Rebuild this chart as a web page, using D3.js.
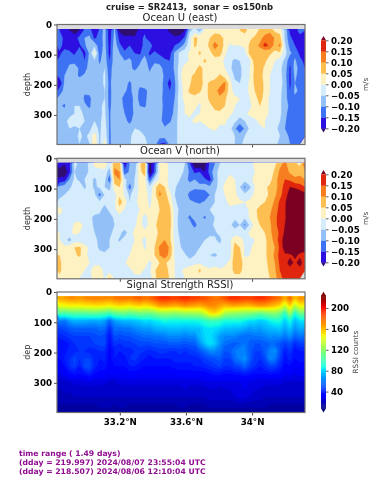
<!DOCTYPE html>
<html>
<head>
<meta charset="utf-8">
<script src="https://cdnjs.cloudflare.com/ajax/libs/d3/7.8.5/d3.min.js"></script>
<style>
html, body { margin: 0; padding: 0; background: #fff; }
svg { display: block; filter: blur(0.42px); font-family: "DejaVu Sans", sans-serif; }
</style>
</head>
<body>
<div id="chart"></div>
<script>
const width = 379
const height = 480

const depths = [20, 45, 70, 95, 120, 145, 170, 195, 220, 245, 270, 295, 320, 345, 370, 395]
const firstLat = 32.835
const latStep = 0.0303

// ocean U, cm/s, one row per depth
const oceanU = [
  [-15,-16,-20,-22,-20,-14,-12,-20,-14,-8,-18,-9,-21,-23,-22,-23,-18,-16,-17,-17,-18,-17,-21,-23,-24,-20,-6,-3,-7,1,2,3,3,3,3,2,5,7,2,2,6,7,8,4,3,-6,-16,-18,-12,-15],
  [-13,-16,-18,-18,-13,-10,-9,-16,-13,-8,-18,-8,-17,-19,-19,-19,-17,-14,-18,-19,-19,-18,-17,-19,-18,-14,-2,6,4,2,5,8,7,4,3,1,1,2,4,6,8,12,15,9,7,-6,-14,-17,-18,-18],
  [-13,-17,-17,-18,-16,-11,-7,-6,-14,-8,-17,-7,-14,-17,-15,-16,-18,-13,-12,-18,-19,-18,-16,-15,-13,-8,-2,6,3,1,7,12,9,3,-1,0,0,1,6,8,11,17,14,8,11,-4,-12,-15,-17,-18],
  [-16,-13,-14,-16,-11,-17,-9,2,-13,-7,-17,-6,-10,-14,-12,-15,-16,-11,-16,-14,-16,-18,-17,-9,-4,-2,1,2,6,2,3,8,7,1,-3,-2,-1,-2,7,9,7,5,6,3,4,-3,-9,-12,-16,-18],
  [-14,-12,-11,-12,-12,-15,-8,-6,-11,-7,-15,-7,-8,-10,-9,-12,-11,-8,-13,-11,-12,-14,-15,-9,-4,-3,1,3,2,6,3,2,2,-1,-4,-6,-5,-3,-1,8,8,6,2,0,-3,-6,-14,-9,-14,-16],
  [-13,-12,-9,-7,-11,-13,-7,-6,-9,-5,-14,-5,-7,-8,-9,-11,-9,-7,-11,-8,-8,-12,-14,-9,-3,3,2,3,7,3,2,2,2,0,-4,-7,-6,-3,0,6,7,4,1,-1,-4,-7,-16,-8,-12,-15],
  [-13,-10,-7,-8,-11,-9,-6,-6,-8,-4,-13,-5,-7,-7,-8,-8,-8,-7,-9,-7,-7,-11,-14,-10,-2,4,4,6,8,2,2,1,6,3,-1,-6,-6,-3,0,7,8,2,0,-1,-3,-8,-16,-9,-12,-15],
  [-20,-9,-6,-8,-6,-8,-7,-7,-8,-4,-12,-5,-7,-8,-11,-8,-9,-6,-8,-7,-7,-12,-17,-11,-3,3,4,9,8,3,6,9,8,11,2,-4,-5,-3,1,6,9,3,0,-2,-3,-7,-16,-10,-12,-15],
  [-12,-9,-6,-7,-5,-9,-7,-5,-7,-5,-12,-6,-8,-9,-12,-7,-11,-12,-8,-6,-7,-12,-15,-11,-3,2,6,8,6,2,7,8,12,10,2,-2,-3,-2,1,5,9,3,0,-1,-4,-7,-15,-9,-11,-14],
  [-9,-8,-6,-6,-6,-11,-12,-5,-7,-5,-12,-6,-8,-12,-14,-8,-11,-12,-7,-6,-8,-12,-14,-10,-2,1,3,3,1,3,6,7,9,6,2,1,0,-1,0,3,7,3,-1,-2,-4,-8,-13,-11,-13,-14],
  [-9,-11,-6,-5,-5,-9,-11,-6,-6,-4,-12,-5,-8,-11,-14,-8,-10,-11,-7,-5,-7,-12,-14,-9,-3,0,2,1,-1,3,4,6,9,5,2,0,-1,-2,-1,2,5,3,-1,-3,-4,-8,-11,-13,-14,-14],
  [-9,-7,-6,-5,-2,-7,-8,-6,-6,-4,-11,-5,-7,-10,-13,-9,-7,-6,-6,-5,-7,-13,-14,-8,-3,0,1,-1,0,3,2,4,3,2,1,-1,-3,-1,1,2,3,2,-1,-2,-4,-8,-13,-11,-14,-14],
  [-7,-6,-4,-3,-2,-5,-7,-5,-6,-3,-11,-5,-6,-8,-12,-7,-6,-6,-7,-5,-8,-13,-11,-7,-3,-3,-1,1,0,1,2,2,1,1,-2,-4,-7,-5,-2,-1,1,0,-3,-4,-5,-9,-14,-12,-14,-15],
  [-8,-6,-5,-6,-5,-6,-6,-3,-6,-2,-11,-6,-6,-7,-7,-5,-6,-6,-7,-6,-8,-9,-7,-6,-4,-4,-2,-2,-1,-1,0,1,-1,-1,-3,-9,-15,-9,-4,-2,-1,0,-3,-4,-6,-10,-13,-15,-14,-15],
  [-8,-7,-6,-7,-4,-6,-4,3,-6,-1,-11,-7,-6,-7,-6,-3,-2,-5,-6,-7,-8,-8,-8,-6,-4,-4,-3,-3,-2,-2,-1,-2,-2,-2,-3,-5,-7,-5,-3,-3,-2,-2,-3,-4,-5,-8,-11,-12,-14,-14],
  [-9,-8,-7,-7,-5,-7,-5,4,-6,2,-11,-7,-6,-7,-6,-2,-1,-4,-6,-7,-15,-16,-8,-6,-4,-3,-3,-3,-2,-2,-2,-2,-2,-3,-3,-5,-6,-4,-3,-3,-3,-3,-3,-4,-6,-8,-10,-11,-12,NaN]
]

// ocean V, cm/s, one row per depth
const oceanV = [
  [-18,-20,-16,-4,-6,-7,-4,1,1,3,-3,9,8,-18,-10,-9,4,9,-22,-15,1,2,-1,-3,-2,-5,-14,-24,-24,-22,-14,-10,-5,-2,-2,-1,-2,-3,-2,1,1,1,2,4,9,11,8,6,4,14],
  [-22,-24,-17,-5,-7,-8,-4,-2,-1,-2,-8,11,10,-14,-9,-7,3,8,-24,-14,0,2,-1,-3,-3,-6,-11,-16,-15,-20,-13,-7,-3,-2,-1,-2,-3,-2,-1,0,1,1,2,6,11,13,9,8,8,9],
  [-19,-18,-10,-4,-6,-5,-3,-6,-3,-3,-14,8,10,-4,-7,-5,2,3,-14,-4,1,3,-2,-4,-5,-7,-12,-10,-13,-14,-17,-8,-3,-1,2,0,-2,-3,-1,1,1,2,3,8,12,15,14,11,12,10],
  [-9,-7,-6,-3,-2,-6,-3,-6,-4,-5,-7,3,5,-2,-13,-4,1,2,-4,3,9,5,-2,-4,-8,-9,-7,-9,-8,-7,-9,-8,-2,1,2,1,-5,-11,-6,0,2,4,6,8,12,17,20,19,17,15],
  [-6,-5,-3,-3,-2,-3,-3,-4,-12,-5,-3,-2,4,-1,-6,-2,1,3,-2,3,11,7,2,-5,-6,-7,-12,-13,-14,-15,-10,-5,-2,0,3,1,-2,-4,-2,1,2,3,6,9,13,18,22,25,24,22],
  [-4,-3,-2,-1,-3,-4,-3,-3,-4,-4,-3,-1,7,3,-5,-1,1,2,-1,2,6,9,4,-4,-7,-7,-9,-10,-11,-9,-6,-5,-2,-1,1,1,1,0,1,3,2,5,7,11,16,19,25,27,26,25],
  [3,-2,-2,-1,-2,-3,-3,-3,-4,-7,-4,-1,3,-1,-3,-1,0,1,0,1,5,8,6,-2,-6,-7,-8,-7,-6,-6,-5,-4,-1,0,-1,-2,-3,-3,1,3,8,7,9,12,17,19,26,28,26,26],
  [-1,-2,-2,-2,-3,-2,-4,-6,-6,-7,-7,-4,-2,0,-4,-1,1,-1,1,3,6,10,7,-2,-7,-8,-11,-8,-8,-11,-7,-5,-3,-1,-3,-4,-3,-4,1,4,6,8,10,13,18,19,25,27,26,26],
  [-1,-2,-3,1,2,-1,-3,-6,-7,-8,-7,-5,-2,0,-3,-1,2,-2,1,4,7,10,7,-2,-7,-8,-8,-12,-7,-7,-7,-4,-2,-2,-4,-7,-5,-11,-4,2,5,6,9,13,18,20,23,26,23,25],
  [0,-1,-1,1,0,-2,-3,-5,-6,-7,-6,-4,-3,-8,-2,1,2,1,2,3,6,8,6,-2,-6,-7,-8,-7,-8,-6,-6,-6,-3,-1,-2,-3,-4,-3,1,1,4,5,9,12,16,21,25,23,27,21],
  [0,-3,-7,-2,-3,-3,-2,-4,-6,-7,-5,-3,-6,-2,-2,0,1,-1,2,4,7,10,6,-1,-5,-7,-8,-7,-6,-5,-4,-4,-7,-1,-1,4,3,-2,-1,0,3,4,7,12,17,23,21,25,22,21],
  [1,1,3,5,6,2,-1,-3,-6,-8,-5,-3,-2,-1,-1,1,4,-1,2,5,11,14,9,-1,-4,-8,-9,-6,-5,-3,-4,-3,-3,-2,-3,7,5,-1,-1,2,5,4,7,10,16,23,26,25,23,22],
  [5,2,3,4,6,1,-1,-2,-3,-3,-3,-2,-2,-1,0,3,4,2,3,5,10,13,8,-1,-3,-4,-8,-5,-4,-4,-5,-6,-4,-2,-2,8,7,-1,0,3,4,4,7,11,17,19,19,21,19,18],
  [6,3,2,2,1,2,0,-1,-2,-2,-3,-2,-2,-1,4,3,3,4,-2,3,5,6,3,0,-2,-3,-2,-1,-1,-2,-3,-2,-3,-1,1,8,8,2,1,2,3,4,6,10,16,18,22,19,22,17],
  [6,3,2,3,1,0,-1,2,3,-2,-3,-1,-1,-1,-2,2,3,-1,-1,4,9,9,3,0,-1,1,2,3,6,2,1,2,1,1,2,7,7,2,1,1,3,3,6,9,15,17,18,18,18,16],
  [4,3,1,1,0,-1,-2,3,4,-1,6,-1,-1,-1,-1,-2,-2,-2,-2,3,9,10,4,0,-1,0,1,2,3,2,1,1,1,1,2,3,3,2,1,1,2,3,5,8,13,17,16,16,15,NaN]
]

// signal strength, counts, one row per depth
const oceanRSSI = [
  [166,168,172,172,170,172,174,176,174,174,172,176,178,178,176,180,182,178,180,186,192,194,192,190,192,194,192,190,188,186,182,178,180,186,192,194,192,190,190,192,194,192,188,182,178,166,180,160,172,170],
  [144,146,148,148,148,150,150,152,152,150,148,152,154,152,150,154,156,152,154,160,168,168,166,164,166,170,168,166,164,168,172,172,166,162,164,166,164,162,162,166,168,168,164,160,154,136,156,132,148,148],
  [104,102,104,106,106,106,108,108,106,104,100,108,110,112,108,110,114,112,112,116,122,122,122,120,122,124,124,126,126,136,150,154,146,128,124,122,120,118,118,114,110,114,118,120,114,96,124,92,112,112],
  [62,60,68,72,72,72,70,70,72,68,56,68,72,74,74,76,78,82,80,84,86,90,88,88,88,88,88,88,90,94,98,98,96,90,90,90,90,86,82,82,78,80,86,90,90,78,90,74,82,82],
  [48,50,54,56,56,56,56,56,58,58,44,58,58,60,60,64,66,68,68,72,74,74,76,76,76,74,76,76,76,82,84,82,80,76,76,74,74,72,68,70,68,72,74,76,78,70,78,66,72,70],
  [42,44,46,48,48,48,48,50,52,50,38,52,50,52,52,54,56,58,58,60,60,62,64,64,64,62,64,64,74,80,82,76,68,64,64,64,60,58,58,60,60,62,66,64,66,60,66,56,60,58],
  [36,38,40,44,44,44,46,48,50,50,36,46,44,46,46,48,50,50,50,52,52,52,54,54,54,52,54,54,66,76,84,78,66,58,56,54,56,60,54,52,52,54,56,56,52,48,52,44,48,48],
  [36,38,42,42,44,44,42,42,44,44,34,40,40,42,42,44,46,44,42,44,46,46,44,44,46,44,46,48,52,58,64,64,60,52,54,60,64,62,54,48,48,54,62,66,52,40,46,36,40,40],
  [36,40,44,50,44,48,48,42,40,42,34,40,38,38,44,46,42,40,38,40,40,40,40,42,42,42,42,42,44,48,50,52,54,48,48,58,62,66,54,46,44,50,64,60,48,38,42,36,38,38],
  [32,36,44,48,40,50,52,42,38,38,34,36,36,36,40,40,38,36,36,36,36,36,36,38,38,38,38,40,40,42,44,46,48,44,44,48,50,56,48,44,40,44,48,48,42,34,36,32,34,34],
  [28,30,36,38,36,38,42,36,34,34,32,32,32,32,34,34,32,32,32,32,32,32,32,32,34,34,34,34,34,34,36,38,38,36,36,38,38,40,38,36,36,36,38,36,36,30,32,28,30,30],
  [22,24,24,26,26,26,28,26,26,26,24,24,26,26,26,26,26,26,26,26,26,26,26,26,26,26,26,26,26,28,28,28,28,28,28,28,28,28,28,26,26,26,26,26,26,24,24,24,24,24],
  [20,22,22,22,22,22,22,22,22,22,22,22,22,22,22,22,22,22,22,22,22,22,22,22,22,24,22,22,22,22,24,24,22,24,24,24,26,28,26,24,24,22,22,22,22,22,22,22,22,22],
  [18,18,18,20,20,20,20,20,20,20,20,20,20,20,20,20,20,20,20,20,20,20,20,20,20,20,20,20,20,20,22,22,22,22,22,24,26,26,24,22,22,20,20,20,20,20,20,20,20,20],
  [16,16,16,16,16,16,16,16,18,18,18,16,18,18,16,16,16,16,16,16,16,16,16,16,18,18,16,16,16,16,18,18,18,18,18,18,20,18,18,18,18,18,16,16,16,16,16,16,16,16],
  [14,14,14,14,14,14,14,14,14,14,14,14,14,14,14,14,14,14,14,14,14,14,14,14,14,14,14,14,14,14,14,14,14,14,14,14,14,14,14,14,14,14,14,14,14,14,14,14,14,14]
]

const velocityLevels = [-20, -15, -10, -5, 0, 5, 10, 15, 20]
const velocityColors = ["#2e0e6e", "#2c10e2", "#3e72f4", "#93c1f7", "#d4ecfc", "#fff2c2", "#fdbf52", "#f77e1f", "#e0260e", "#7b0022"]
const velocityTicks = [-0.2, -0.15, -0.1, -0.05, 0, 0.05, 0.1, 0.15, 0.2]
const rssiMin = 8
const rssiMax = 223
const rssiTicks = [40, 80, 120, 160, 200]
const depthTicks = [0, 100, 200, 300]
const latTicks = [33.2, 33.6, 34]
const infoLines = [
  "time range ( 1.49 days)",
  "(dday = 219.997) 2024/08/07 23:55:04 UTC",
  "(dday = 218.507) 2024/08/06 12:10:04 UTC"
]

const svg = d3.select("#chart").append("svg")
    .attr("width", width)
    .attr("height", height)

const xScale = d3.scaleLinear().domain([32.82, 34.32]).range([57, 305])
const spineColor = "#6f6f6f"

// matplotlib jet, built channel by channel
const jetR = d3.scaleLinear().domain([0, 0.35, 0.66, 0.89, 1]).range([0, 0, 1, 1, 0.5]).clamp(true)
const jetG = d3.scaleLinear().domain([0, 0.125, 0.375, 0.64, 0.91, 1]).range([0, 0, 1, 1, 0, 0]).clamp(true)
const jetB = d3.scaleLinear().domain([0, 0.11, 0.34, 0.65, 1]).range([0.5, 1, 1, 0, 0]).clamp(true)
const jet = t => d3.rgb(jetR(t) * 255, jetG(t) * 255, jetB(t) * 255).formatRgb()
const rssiColor = v => jet((v - rssiMin) / (rssiMax - rssiMin))

function drawField(opts) {
  const g = svg.append("g")
  const yScale = d3.scaleLinear().domain([0, 398]).range([opts.top, opts.bottom])
  const clipId = "clip" + opts.id

  svg.append("clipPath").attr("id", clipId).append("rect")
      .attr("x", xScale.range()[0])
      .attr("y", yScale(15))
      .attr("width", xScale.range()[1] - xScale.range()[0])
      .attr("height", yScale(398) - yScale(15))

  // missing data shows as grey
  g.append("rect")
      .attr("x", xScale.range()[0])
      .attr("y", opts.top)
      .attr("width", xScale.range()[1] - xScale.range()[0])
      .attr("height", opts.bottom - opts.top)
      .attr("fill", opts.missingColor)

  const nx = opts.rows[0].length
  const ny = opts.rows.length
  const gridToPixel = d3.geoTransform({
    point: function(gx, gy) {
      const lat = firstLat + (gx - 0.5) * latStep
      const depth = depths[0] + (gy - 0.5) * (depths[1] - depths[0])
      this.stream.point(xScale(lat), yScale(depth))
    }
  })
  const path = d3.geoPath(gridToPixel)
  const contours = d3.contours().size([nx, ny]).thresholds(opts.thresholds)

  g.append("g")
      .attr("clip-path", "url(#" + clipId + ")")
    .selectAll("path")
    .data(contours(opts.rows.flat()))
    .join("path")
      .attr("d", path)
      .attr("fill", d => opts.fill(d.value))
      .attr("stroke", d => opts.fill(d.value))
      .attr("stroke-width", 0.2)

  const xAxis = d3.axisBottom(xScale).tickValues(latTicks).tickSize(3).tickPadding(3)
      .tickFormat(opts.xLabels ? (d => d + "°N") : "")
  const yAxis = d3.axisLeft(yScale).tickValues(depthTicks).tickSize(3).tickPadding(2)

  const gx = g.append("g").attr("transform", "translate(0," + opts.bottom + ")").call(xAxis)
  const gy = g.append("g").attr("transform", "translate(" + xScale.range()[0] + ",0)").call(yAxis)
  for (const a of [gx, gy]) {
    a.selectAll("text").attr("fill", "#000").attr("font-size", 8.7).attr("font-weight", "bold")
        .attr("font-family", "DejaVu Sans")
    a.selectAll("line").attr("stroke", "#222").attr("stroke-width", 0.8)
    a.select(".domain").remove()
  }

  g.append("rect")
      .attr("x", xScale.range()[0])
      .attr("y", opts.top)
      .attr("width", xScale.range()[1] - xScale.range()[0])
      .attr("height", opts.bottom - opts.top)
      .attr("fill", "none")
      .attr("stroke", spineColor)
      .attr("stroke-width", 1.2)

  g.append("text")
      .attr("x", d3.mean(xScale.range()) - 1)
      .attr("y", opts.top - 4)
      .attr("text-anchor", "middle")
      .attr("font-size", 10)
      .attr("fill", "#222")
      .text(opts.title)

  g.append("text")
      .attr("transform", "translate(29.5," + (opts.top + opts.bottom) / 2 + ") rotate(-90)")
      .attr("text-anchor", "middle")
      .attr("font-size", 8)
      .attr("fill", "#333")
      .text(opts.ylabel)
}

function drawColorbar(opts) {
  const g = svg.append("g")
  const barScale = d3.scaleLinear().domain(opts.domain).range([opts.barBottom, opts.barTop])
  const x0 = 321
  const barW = 5
  const mid = x0 + barW / 2

  g.append("path")
      .attr("d", d3.line()([[x0, opts.barTop], [mid, opts.barTop - 4.3], [x0 + barW, opts.barTop]]))
      .attr("fill", opts.overColor)
  g.append("path")
      .attr("d", d3.line()([[x0, opts.barBottom], [mid, opts.barBottom + 4.3], [x0 + barW, opts.barBottom]]))
      .attr("fill", opts.underColor)

  g.selectAll("rect").data(opts.bands).join("rect")
      .attr("x", x0)
      .attr("width", barW)
      .attr("y", d => barScale(d.hi))
      .attr("height", d => barScale(d.lo) - barScale(d.hi) + 0.3)
      .attr("fill", d => d.color)

  const axis = d3.axisRight(barScale).tickValues(opts.ticks).tickSize(2.5).tickPadding(2.5)
      .tickFormat(opts.tickFormat)
  const ga = g.append("g").attr("transform", "translate(" + (x0 + barW) + ",0)").call(axis)
  ga.select(".domain").remove()
  ga.selectAll("text").attr("fill", "#000").attr("font-size", 8.7).attr("font-weight", "bold")
      .attr("font-family", "DejaVu Sans")
  ga.selectAll("line").attr("stroke", "#333").attr("stroke-width", 0.8)

  g.append("text")
      .attr("transform", "translate(" + opts.labelX + "," + (opts.barTop + opts.barBottom) / 2 + ") rotate(-90)")
      .attr("text-anchor", "middle")
      .attr("font-size", 7.2)
      .attr("fill", "#444")
      .text(opts.label)
}

const velocityFill = v => velocityColors[velocityLevels.filter(l => l <= v).length]
const velocityThresholds = [-1000].concat(velocityLevels)
const velocityBands = d3.pairs(velocityLevels).map(p => ({
  lo: p[0] / 100, hi: p[1] / 100, color: velocityFill(p[0])
}))
const velocityFormat = d => d3.format(".2f")(d).replace("-", "\u2212")

drawField({ id: "u", rows: oceanU, top: 24.5, bottom: 144.5, title: "Ocean U (east)", ylabel: "depth",
  thresholds: velocityThresholds, fill: velocityFill, xLabels: false, missingColor: "#dcdcdc" })
drawField({ id: "v", rows: oceanV, top: 158.3, bottom: 278.8, title: "Ocean V (north)", ylabel: "depth",
  thresholds: velocityThresholds, fill: velocityFill, xLabels: false, missingColor: "#dcdcdc" })

const rssiThresholds = [-1000].concat(d3.range(rssiMin, rssiMax, 4))
drawField({ id: "r", rows: oceanRSSI, top: 292, bottom: 412.5, title: "Signal Strength RSSI)", ylabel: "dep",
  thresholds: rssiThresholds, fill: v => rssiColor(v + 2), xLabels: true, missingColor: "#fff" })

drawColorbar({ domain: [-0.2, 0.2], barTop: 40.3, barBottom: 128.3, bands: velocityBands, ticks: velocityTicks,
  tickFormat: velocityFormat, overColor: "#7b0022", underColor: "#2e0e6e", label: "m/s", labelX: 368 })
drawColorbar({ domain: [-0.2, 0.2], barTop: 174.3, barBottom: 262.3, bands: velocityBands, ticks: velocityTicks,
  tickFormat: velocityFormat, overColor: "#7b0022", underColor: "#2e0e6e", label: "m/s", labelX: 368 })

const rssiBands = d3.range(rssiMin, rssiMax, 2).map(v => ({ lo: v, hi: v + 2, color: rssiColor(v + 1) }))
drawColorbar({ domain: [rssiMin, rssiMax], barTop: 296, barBottom: 408.3, bands: rssiBands, ticks: rssiTicks,
  tickFormat: d3.format("d"), overColor: jet(1), underColor: jet(0), label: "RSSI counts", labelX: 358 })

svg.append("text")
    .attr("x", 189.5)
    .attr("y", 9.5)
    .attr("text-anchor", "middle")
    .attr("font-size", 8.45)
    .attr("font-weight", "bold")
    .attr("fill", "#222")
    .style("white-space", "pre")
    .text("cruise = SR2413,  sonar = os150nb")

svg.append("g").selectAll("text").data(infoLines).join("text")
    .attr("x", 19)
    .attr("y", (d, i) => 455.5 + i * 9)
    .attr("font-size", 7.7)
    .attr("font-weight", "bold")
    .attr("fill", "#8f0b8f")
    .text(d => d)
</script>
</body>
</html>
